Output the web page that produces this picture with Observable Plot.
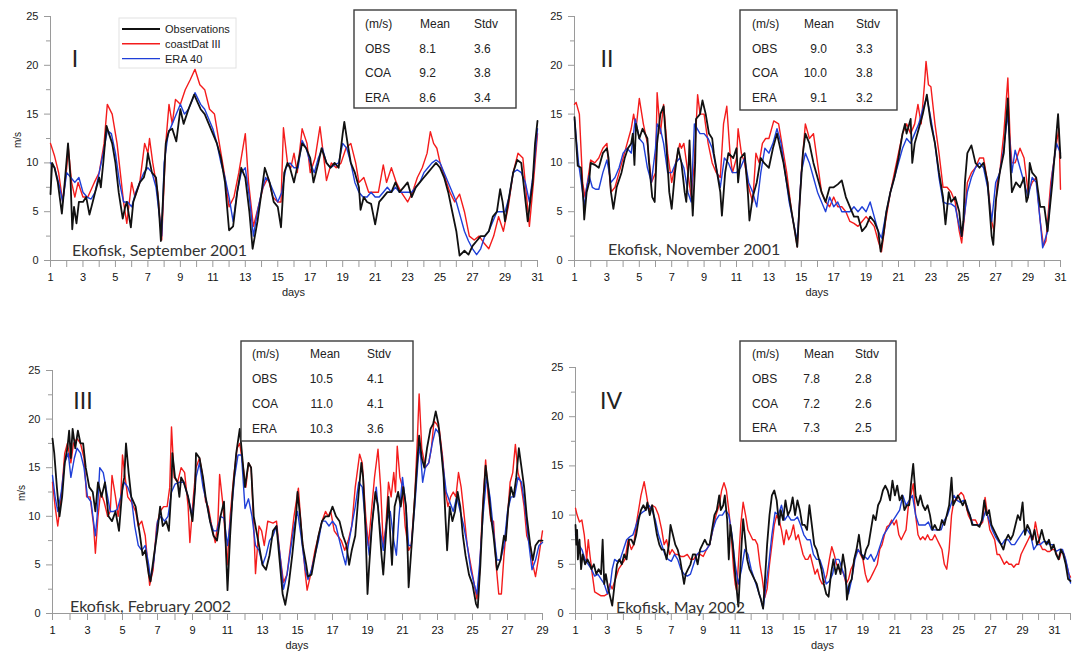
<!DOCTYPE html>
<html><head><meta charset="utf-8">
<script src="https://cdn.jsdelivr.net/npm/d3@7"></script>
<script src="https://cdn.jsdelivr.net/npm/@observablehq/plot@0.6"></script>
<style>
body{margin:0;background:#fff;}
#wrap{position:relative;width:1074px;height:651px;overflow:hidden;background:#fff;}
#wrap svg{position:absolute;}
</style></head><body><div id="wrap"></div>
<script>
// ---------- DATA (day of month, wind speed m/s) ----------
const seriesNames = ["Observations", "coastDat III", "ERA 40"];
const statRows = ["OBS", "COA", "ERA"];
const statHeader = ["(m/s)", "Mean", "Stdv"];
const yMajor = [0, 5, 10, 15, 20, 25];
const yMinor = [2.5, 7.5, 12.5, 17.5, 22.5];
const panelLabels = ["I", "II", "III", "IV"];
const siteLabels = ["Ekofisk, September 2001", "Ekofisk, November 2001", "Ekofisk, February 2002", "Ekofisk, May 2002"];
const lastDay = [31, 31, 29, 32];

const mean1 = [8.1, 9.2, 8.6], sd1 = [3.6, 3.8, 3.4];
const mean2 = [9.0, 10.0, 9.1], sd2 = [3.3, 3.8, 3.2];
const mean3 = [10.5, 11.0, 10.3], sd3 = [4.1, 4.1, 3.6];
const mean4 = [7.8, 7.2, 7.3], sd4 = [2.8, 2.6, 2.5];

// Panel I - September 2001
const obs1 = [[1,6.8],[1.1,10],[1.25,9.5],[1.45,8],[1.7,4.8],[1.85,7.5],[2.08,12],[2.23,8.5],[2.34,3.2],[2.45,5.5],[2.6,3.8],[2.75,6],[3,6],[3.2,6.5],[3.4,4.7],[3.6,6],[3.75,7],[4,8.5],[4.1,7.5],[4.25,10],[4.45,13.8],[4.6,13],[4.8,12],[5,10],[5.2,7],[5.45,4.3],[5.6,5.5],[5.7,6],[5.95,3.4],[6.1,6],[6.3,7],[6.5,8],[6.75,8.5],[6.9,9.5],[7,11],[7.25,9],[7.5,8.5],[7.65,6],[7.8,2],[7.95,7],[8.1,12],[8.3,13.3],[8.5,13.5],[8.75,12.2],[9,15.5],[9.2,14],[9.5,15.5],[9.85,17],[10.25,15.5],[10.5,15],[10.75,14],[11,13],[11.25,12],[11.5,10.5],[11.75,8],[12,3.1],[12.25,3.5],[12.5,7],[12.75,9.5],[13,8.5],[13.25,5],[13.45,1.2],[13.75,4],[14,7],[14.2,9.5],[14.5,8],[14.75,6],[15,5.5],[15.2,3.4],[15.4,9],[15.6,10],[15.75,9.5],[16,8],[16.25,10],[16.5,12],[16.75,11.5],[17,10.5],[17.2,8],[17.5,10],[17.7,11.5],[18,10],[18.25,9.5],[18.5,10],[18.75,9.5],[19,13],[19.1,14.2],[19.3,12],[19.5,10],[19.75,9],[20,7.5],[20.1,5.2],[20.3,6.5],[20.5,6],[20.75,5.8],[21,3.7],[21.25,6],[21.5,6.5],[21.75,7],[22,7],[22.25,8],[22.5,7],[22.75,7.5],[23,8],[23.25,6.5],[23.5,7.5],[23.75,8],[24,8.5],[24.25,9],[24.5,9.5],[24.75,10],[25,9.5],[25.25,8.5],[25.5,7],[25.75,5],[26,3],[26.2,0.5],[26.5,1],[26.75,0.6],[27,1.5],[27.25,2],[27.5,2.5],[27.75,2.5],[28,3],[28.25,4.5],[28.5,5],[28.7,7.3],[28.85,6],[29,4],[29.25,6.5],[29.5,9],[29.75,10.3],[30,10],[30.2,7],[30.4,4],[30.7,8],[30.85,12],[31,14.3]];
const coa1 = [[1,12],[1.25,10.7],[1.5,9],[1.75,6],[2,9.5],[2.1,11.5],[2.3,8],[2.5,6.5],[2.7,8],[3,6.5],[3.3,6.5],[3.7,8],[4,9],[4.3,12],[4.5,16],[4.8,15],[5.1,12],[5.5,6],[5.7,3.8],[6,8],[6.2,6.5],[6.5,8],[6.8,12],[7,11],[7.1,12.5],[7.3,10],[7.6,7],[7.85,2.1],[8.1,12],[8.3,16],[8.5,14],[8.7,16.5],[9,16],[9.3,17.5],[9.6,18.5],[9.9,19.6],[10.2,18],[10.5,17.5],[10.8,15.5],[11.1,15],[11.4,12],[11.7,9],[12,5.5],[12.3,6.5],[12.6,9],[13,13],[13.2,8],[13.5,3.5],[13.8,5.5],[14.1,7.5],[14.4,8.5],[14.7,6.5],[15,6],[15.2,6],[15.35,13.6],[15.6,10],[15.8,9.5],[16,11],[16.2,9],[16.5,13.5],[16.8,12],[17,9],[17.3,10.5],[17.6,13.7],[17.8,11],[18,8.2],[18.3,10],[18.6,9.5],[18.9,10],[19.2,11.5],[19.5,12],[19.8,10],[20,8],[20.3,8.5],[20.6,7],[20.9,7],[21.2,7],[21.5,9.8],[21.7,8],[22,9.5],[22.3,8],[22.6,7],[23,6],[23.3,7],[23.6,8.5],[23.9,9.5],[24.2,11],[24.4,13.2],[24.6,12],[24.8,11.5],[25,10],[25.3,8.5],[25.6,7],[25.9,6],[26.2,6.8],[26.5,5],[26.8,2.5],[27.1,2.1],[27.4,2.5],[27.7,1.8],[28,1.2],[28.3,2.5],[28.6,4.5],[28.9,3],[29.2,5.5],[29.5,9],[29.8,11],[30.1,10.5],[30.3,7],[30.5,3.5],[30.75,8],[31,13]];
const era1 = [[1,10],[1.25,9.5],[1.5,8],[1.75,6],[2,9],[2.25,8.5],[2.5,8],[2.75,8.5],[3,7],[3.25,6.5],[3.5,6.3],[3.75,7],[4,9],[4.25,11],[4.5,13.3],[4.75,13],[5,11],[5.25,8],[5.5,6],[5.75,6],[6,5.5],[6.25,7],[6.5,8],[6.75,9],[7,9.5],[7.25,9],[7.5,7.5],[7.75,4],[7.85,2.5],[8,10],[8.25,13],[8.5,14],[8.75,15],[9,16],[9.25,15],[9.5,15.5],[9.75,16.5],[9.9,17.2],[10.25,16],[10.5,15.5],[10.75,14.5],[11,13.5],[11.25,12],[11.5,10],[11.75,8.5],[12,6.5],[12.25,4],[12.5,7],[12.75,9],[13,9.5],[13.25,6.5],[13.5,2.5],[13.75,5],[14,7],[14.25,8.5],[14.5,8],[14.75,7],[15,6],[15.25,7],[15.5,9.5],[15.75,10],[16,9.5],[16.25,9.5],[16.5,12.3],[16.75,11.5],[17,10],[17.25,9],[17.5,10.5],[17.75,11.5],[18,10],[18.25,9.5],[18.5,9.8],[18.75,10],[19,12],[19.25,11.5],[19.5,10],[19.75,8],[20,7],[20.25,6.5],[20.5,6.5],[20.75,7],[21,6.5],[21.25,6.5],[21.5,7],[21.75,7.5],[22,7],[22.25,7.5],[22.5,7],[22.75,7],[23,7],[23.25,7],[23.5,7.5],[23.75,8],[24,9],[24.25,9.5],[24.5,10],[24.75,10.3],[25,10],[25.25,9],[25.5,8],[25.75,7],[26,6],[26.25,4.5],[26.5,3],[26.75,2],[27,1.2],[27.25,0.6],[27.5,1.2],[27.75,2.5],[28,3],[28.25,4],[28.5,5],[28.75,5],[29,5],[29.25,6.5],[29.5,9],[29.75,9.3],[30,9],[30.25,8],[30.5,6],[30.75,9],[31,13.5]];

// Panel II - November 2001
const obs2 = [[1,14.7],[1.2,9.7],[1.4,9.5],[1.55,6.1],[1.6,4.2],[1.75,7],[1.9,8],[2,10],[2.25,9.8],[2.5,9.5],[2.75,11],[3,11.5],[3.1,10.5],[3.25,7],[3.4,5.3],[3.6,7.5],[3.9,9],[4.1,10.5],[4.3,11.5],[4.5,12],[4.6,13],[4.7,9.8],[4.8,14],[5,12.5],[5.2,13.5],[5.5,12.5],[5.6,10],[5.8,6.5],[5.95,6],[6.1,12],[6.3,15],[6.5,15.8],[6.7,11],[6.85,7],[7,5.3],[7.2,9],[7.4,11.5],[7.6,10],[7.8,7],[7.9,6],[8.05,10],[8.1,12.3],[8.2,8],[8.3,4.6],[8.45,10],[8.5,14.5],[8.75,15],[8.9,16.4],[9.1,15],[9.3,13],[9.5,12.5],[9.6,11],[9.8,9],[10,7],[10.1,4.6],[10.3,9],[10.5,11],[10.8,10.5],[11,11.5],[11.1,8],[11.25,10.5],[11.5,11],[11.7,7],[11.8,4.1],[12,6.5],[12.25,8],[12.5,10.5],[12.7,10],[13,9.5],[13.25,11.5],[13.5,13],[13.7,11.5],[13.9,10],[14.1,8],[14.4,5],[14.6,3],[14.75,1.4],[14.9,6],[15.1,11],[15.25,13],[15.5,12],[15.75,10],[16,8.5],[16.25,7],[16.5,6],[16.75,7.5],[17,7.5],[17.25,7.8],[17.5,8.2],[17.75,6.5],[18,5.5],[18.25,4.5],[18.5,4.5],[18.75,3],[19,3.5],[19.25,4.5],[19.5,4],[19.75,3],[19.9,0.9],[20.1,3],[20.25,5],[20.5,7],[20.75,8.5],[21,10.5],[21.25,13],[21.4,14],[21.5,13],[21.75,14.5],[21.85,10],[22,12],[22.25,13.5],[22.5,15],[22.75,17],[23,14],[23.25,12],[23.5,9],[23.75,6.5],[23.9,3.7],[24.1,7],[24.25,6],[24.5,6.5],[24.75,5],[24.9,2.5],[25,4],[25.1,8],[25.25,11],[25.5,11.8],[25.75,10],[26,9.5],[26.25,10],[26.5,8],[26.75,2.5],[26.85,1.6],[27,6],[27.25,9],[27.5,11],[27.75,16.6],[27.9,10],[28,7],[28.25,8],[28.5,7.5],[28.75,8.5],[28.9,6],[29,6.5],[29.1,10],[29.25,9],[29.5,8.5],[29.75,5.5],[30,5.5],[30.2,3],[30.5,8],[30.75,13],[30.85,15],[31,10.5]];
const coa2 = [[1,16],[1.1,16.2],[1.3,15],[1.5,8],[1.65,6.5],[1.8,8],[2,10.3],[2.25,10],[2.5,10.5],[2.75,11.5],[3,12],[3.25,7],[3.5,7.5],[3.75,9],[4,10.5],[4.25,12],[4.5,13.5],[4.65,15],[4.8,13.5],[5,16.6],[5.25,14],[5.5,12],[5.75,8],[6,9],[6.1,17.2],[6.3,13],[6.5,16],[6.75,11],[7,8],[7.25,10],[7.5,12],[7.6,11.5],[7.75,12],[8,9],[8.2,6.5],[8.4,10],[8.6,17],[8.75,15],[9,15],[9.25,12],[9.5,10],[9.75,9],[10,8.5],[10.2,14],[10.4,15.8],[10.6,11],[10.75,9],[11,10.5],[11.1,13.5],[11.3,11],[11.5,10],[11.75,7.5],[12,6],[12.2,11],[12.4,10],[12.6,12],[12.8,12.5],[13,12.5],[13.3,14.3],[13.6,14],[13.9,11],[14.1,9],[14.4,5],[14.6,3],[14.75,1.4],[15,9],[15.25,14],[15.5,12.5],[15.75,13],[16,10],[16.25,7],[16.5,6],[16.75,5.5],[17,6.5],[17.25,5.5],[17.5,5.5],[17.75,5],[18,4],[18.25,3.8],[18.5,3.5],[18.75,4],[19,4.5],[19.25,4],[19.5,3.5],[19.75,2],[19.95,0.9],[20.2,4],[20.5,7],[20.75,9],[21,11],[21.25,13],[21.5,14],[21.75,13],[22,14],[22.2,16],[22.4,14],[22.6,18],[22.7,20.4],[22.85,18],[23,17.8],[23.25,14],[23.5,11],[23.75,7.5],[24,7.5],[24.25,7],[24.5,6],[24.75,3],[24.9,1.8],[25.1,5],[25.25,8],[25.5,9],[25.75,9.5],[26,10.5],[26.25,10.5],[26.5,8],[26.75,4],[26.9,3],[27.1,8],[27.25,9],[27.5,13],[27.75,18.7],[27.9,12],[28,10],[28.2,10],[28.5,11.5],[28.75,10.5],[29,7],[29.25,8],[29.5,8.5],[29.75,4],[29.95,1.5],[30.1,2],[30.4,8],[30.75,12],[30.9,13.5],[31,7.3]];
const era2 = [[1,14.5],[1.25,10],[1.5,7],[1.6,5.5],[1.75,7.5],[1.9,8.7],[2.1,7.5],[2.3,7.3],[2.5,7.3],[2.75,9],[3,10.3],[3.25,8],[3.5,8.5],[3.75,9.5],[4,11],[4.25,11.5],[4.5,11],[4.75,14.5],[5,12.5],[5.25,12],[5.5,9.5],[5.75,8],[6,11.5],[6.1,14],[6.3,13.5],[6.5,12],[6.75,9],[7,9],[7.25,10],[7.5,10.5],[7.75,9.5],[8,7],[8.2,6],[8.4,14],[8.75,13],[9,13],[9.25,12.5],[9.5,11.5],[9.75,9.5],[10,7.5],[10.25,10.5],[10.5,10],[10.75,9],[11,9],[11.25,9.5],[11.5,10.5],[11.75,8],[12,7],[12.25,5.5],[12.5,9],[12.75,11.5],[13,11],[13.25,12],[13.5,13.5],[13.75,12],[14,9],[14.25,6],[14.5,4],[14.75,2],[15,9],[15.25,11],[15.5,10],[15.75,8.5],[16,7],[16.25,6],[16.5,5],[16.75,6.5],[17,5.5],[17.25,6],[17.5,5],[17.75,5],[18,5],[18.25,5.5],[18.5,5],[18.75,5.5],[19,5],[19.25,6],[19.5,4.5],[19.75,3],[19.95,2.3],[20.25,5],[20.5,7],[20.75,8.5],[21,10],[21.25,11.5],[21.5,12.5],[21.75,12],[22,13],[22.25,14],[22.5,15.5],[22.75,16.7],[23,14.5],[23.25,12],[23.5,8.5],[23.75,6],[24,5.8],[24.25,5.8],[24.5,5.5],[24.75,3.5],[24.9,2.5],[25.25,7],[25.5,8.5],[25.75,9.5],[26,10],[26.25,9.5],[26.5,7.5],[26.75,4],[27,8],[27.25,9],[27.5,11.5],[27.75,15],[28,9],[28.2,11.3],[28.5,9.5],[28.75,8],[29,6.5],[29.25,8.5],[29.5,8],[29.75,4],[29.9,1.3],[30.2,3],[30.5,9],[30.75,12],[31,11]];

// Panel III - February 2002
const obs3 = [[1,18],[1.1,16.5],[1.25,13],[1.4,10],[1.55,12],[1.7,15.5],[1.85,17],[1.95,18.8],[2.05,16],[2.15,19],[2.3,17],[2.45,18.8],[2.6,17.5],[2.75,17.5],[2.9,15],[3.1,13],[3.3,12.5],[3.45,10.5],[3.6,13.5],[3.8,12],[4,13.5],[4.2,10],[4.4,9.5],[4.6,10.5],[4.8,8.5],[5,13],[5.1,14],[5.2,17.5],[5.35,14.5],[5.5,12],[5.75,11],[6,8],[6.15,6],[6.3,6.5],[6.5,4],[6.6,3.3],[6.8,6],[7,8.5],[7.15,11],[7.3,9],[7.5,9.5],[7.65,8.5],[7.8,13],[7.85,16.5],[8,14],[8.15,13.5],[8.25,12],[8.35,14],[8.5,13.5],[8.75,12],[9,9.5],[9.15,13],[9.2,16.5],[9.4,16],[9.6,14],[9.75,12],[9.9,10.5],[10,9.5],[10.2,8],[10.4,7.5],[10.6,10],[10.8,11.5],[10.9,7],[11,2.4],[11.15,8],[11.3,12.5],[11.5,16.5],[11.7,19],[11.85,16],[12,13],[12.2,15.5],[12.35,15],[12.5,10],[12.75,7.5],[13,5],[13.2,4.5],[13.4,6],[13.6,8.5],[13.8,9],[14,5],[14.15,2],[14.3,0.9],[14.5,3],[14.7,6],[14.9,9.5],[15,12.5],[15.15,10],[15.3,7],[15.5,5],[15.6,3.8],[15.8,4],[16,6],[16.2,8],[16.4,9.5],[16.6,10],[16.8,10],[17,11],[17.2,10],[17.4,9.5],[17.6,8],[17.8,7],[17.95,5],[18.1,6.5],[18.3,8],[18.5,12.5],[18.65,15.5],[18.75,14],[18.9,8],[19,2],[19.1,5],[19.25,9],[19.45,12.5],[19.6,11],[19.8,6],[19.9,4],[20.05,8],[20.2,12],[20.3,8],[20.4,5],[20.55,11],[20.75,12.5],[20.9,11],[21.05,13],[21.2,11],[21.3,6],[21.35,2.7],[21.6,9],[21.8,14.5],[21.95,18.3],[22.1,16],[22.25,15],[22.4,17],[22.6,19],[22.75,19.5],[22.9,20.8],[23.05,19.5],[23.2,17],[23.35,14],[23.45,10],[23.55,6.5],[23.7,11],[23.85,9.5],[24,10.5],[24.15,12.5],[24.3,11],[24.45,8],[24.6,6],[24.8,4],[25,3],[25.2,1],[25.3,0.6],[25.45,5],[25.6,11],[25.75,15.2],[25.9,13],[26.05,10],[26.2,8],[26.4,4.5],[26.6,5.5],[26.8,8],[26.9,7.5],[27.05,11],[27.2,13],[27.35,12],[27.5,14],[27.65,17],[27.8,15],[27.95,13],[28.1,10],[28.3,7],[28.45,5.5],[28.6,7],[28.8,7.5],[29,7.5]];
const coa3 = [[1,13.5],[1.15,11],[1.3,9],[1.5,12],[1.7,16.5],[1.85,17.5],[2.05,15.5],[2.2,17.5],[2.4,18],[2.6,17.5],[2.8,16],[2.95,12],[3.15,12],[3.35,9],[3.45,6.2],[3.6,10],[3.75,12.5],[3.95,11.5],[4.15,10],[4.3,10.5],[4.4,14.2],[4.6,12],[4.75,10],[4.9,12],[5,16.3],[5.15,14],[5.3,12],[5.5,11.5],[5.75,10.5],[5.9,9],[6.1,9.5],[6.3,8],[6.45,5],[6.55,2.9],[6.75,4.5],[6.95,9],[7.15,10.5],[7.35,11],[7.55,11],[7.7,13],[7.8,19.2],[7.95,14],[8.15,13.5],[8.35,15],[8.55,14.5],[8.75,11],[8.85,7.3],[9.05,12],[9.2,15],[9.4,16],[9.55,14.5],[9.75,11.5],[9.9,11],[10.1,9],[10.3,7.3],[10.45,9.3],[10.55,14.3],[10.75,11],[10.98,5],[11.15,10],[11.35,14],[11.55,17],[11.7,17.5],[11.9,15],[12.05,13],[12.2,15.5],[12.35,15],[12.5,9],[12.6,4.1],[12.8,9],[12.95,8.5],[13.1,7],[13.3,9.5],[13.6,9.3],[13.8,9.5],[14,6],[14.2,3.2],[14.4,4],[14.6,7],[14.8,10],[15.05,12.9],[15.25,8],[15.45,4],[15.55,2.4],[15.75,4],[16,6.5],[16.2,8],[16.4,9.5],[16.6,10.5],[16.75,10],[16.9,10.5],[17.1,8.5],[17.3,8],[17.5,7.5],[17.7,6.5],[17.9,7.5],[18.1,9],[18.3,13],[18.55,16.4],[18.7,15.5],[18.9,10],[19.05,7],[19.25,11],[19.4,14],[19.6,16.9],[19.75,13],[19.9,7],[20.05,9],[20.2,13.5],[20.35,12],[20.5,14.5],[20.6,12.5],[20.7,17.2],[20.85,14],[21,13],[21.15,9],[21.35,6.5],[21.5,7],[21.7,12],[21.85,18],[21.95,22.6],[22.1,17],[22.3,15],[22.5,15.5],[22.65,17],[22.8,19.8],[22.95,19.5],[23.1,19],[23.3,16],[23.45,12.5],[23.6,11],[23.75,12],[23.9,12.5],[24.05,12],[24.2,14.5],[24.35,13],[24.5,10.5],[24.7,7],[24.9,5],[25.1,3],[25.25,1.5],[25.4,4],[25.55,10],[25.75,15.8],[25.9,12],[26.05,9.5],[26.2,9.5],[26.35,5],[26.5,2],[26.65,2],[26.8,6],[27,10],[27.15,13.5],[27.3,14.5],[27.45,17.4],[27.6,14.5],[27.75,13.5],[27.95,11],[28.1,8],[28.3,7],[28.45,5],[28.6,3.8],[28.8,6],[29,8.5]];
const era3 = [[1,14.2],[1.15,12],[1.3,10.5],[1.5,12.5],[1.7,15.5],[1.9,16.5],[2.05,14],[2.25,16],[2.4,17],[2.6,16.5],[2.8,15],[3,12],[3.2,11.5],[3.45,8],[3.55,10],[3.7,15],[3.9,14.5],[4.1,12.5],[4.3,10.5],[4.5,10.5],[4.7,10.7],[4.9,12],[5.1,13.5],[5.3,13],[5.5,12],[5.7,9],[5.9,7],[6.1,6.5],[6.3,7],[6.5,5],[6.6,3.5],[6.8,5.5],[7,9.5],[7.2,10],[7.4,9.5],[7.6,10],[7.8,12.5],[8,13.3],[8.25,13.5],[8.5,13.5],[8.75,12],[9,10],[9.2,14],[9.4,15.5],[9.6,13],[9.8,11.5],[10,9.5],[10.2,8.5],[10.4,8.5],[10.6,10],[10.8,9.8],[11,7],[11.2,10],[11.4,14],[11.6,16.3],[11.8,16.3],[12,10.8],[12.2,11.8],[12.4,10],[12.6,7],[12.8,6.5],[13,5],[13.2,6],[13.4,7.5],[13.6,8],[13.8,9],[14,6],[14.2,2.5],[14.4,4],[14.6,6.5],[14.8,9],[15,10.5],[15.2,8],[15.45,4.5],[15.6,3.5],[15.8,4.5],[16,6],[16.2,7.5],[16.4,9.5],[16.6,9.5],[16.8,9],[17,9.5],[17.2,9],[17.4,7.5],[17.6,6],[17.75,5],[17.9,7],[18.1,9],[18.3,11],[18.5,13.5],[18.7,13],[18.9,9],[19.1,6],[19.3,10],[19.5,13],[19.7,9],[19.9,6.5],[20.1,9.5],[20.3,10.5],[20.5,7.5],[20.65,6],[20.8,10],[21,14],[21.2,11],[21.35,7],[21.5,7],[21.7,11],[21.9,16],[22,17.2],[22.15,13.5],[22.3,15],[22.5,15.5],[22.7,17.5],[22.9,19],[23.1,18.5],[23.3,15.5],[23.5,12.5],[23.7,11.5],[23.9,10.5],[24.1,12],[24.3,10.5],[24.5,9],[24.7,7],[24.9,4.5],[25.1,3],[25.25,2],[25.4,5],[25.6,10],[25.8,14],[26,12],[26.2,8.5],[26.4,5.5],[26.6,5.5],[26.8,7],[27,10.5],[27.2,12],[27.4,12],[27.6,14],[27.8,13.5],[28,11],[28.2,7.5],[28.4,4.5],[28.6,5.5],[28.8,7],[29,7.3]];

// Panel IV - May 2002
const obs4 = [[1,9],[1.05,7],[1.1,8.5],[1.15,5.5],[1.25,7.5],[1.35,4.5],[1.45,6],[1.6,5],[1.75,5.5],[1.9,5],[2,4.5],[2.15,5],[2.3,4],[2.45,4.5],[2.6,4],[2.7,7.5],[2.8,3],[2.9,4],[3.05,2.5],[3.2,1.5],[3.3,0.8],[3.45,3],[3.6,5],[3.75,5.5],[3.9,5],[4.05,6],[4.2,5.5],[4.35,7.5],[4.5,7.5],[4.65,7],[4.8,8],[4.95,9.5],[5.1,10.5],[5.25,11],[5.4,10.5],[5.5,11.3],[5.65,10],[5.8,11],[5.95,9.5],[6.1,8],[6.25,7],[6.4,6.5],[6.55,6.5],[6.7,5.5],[6.85,7],[6.95,9],[7.1,8],[7.25,7],[7.4,6.5],[7.55,5.5],[7.7,4],[7.8,3],[7.9,4],[8.05,4.5],[8.2,5],[8.35,6],[8.5,6],[8.65,5],[8.8,6.5],[8.95,7],[9.1,7.5],[9.25,7],[9.4,7],[9.55,8.5],[9.7,10],[9.85,10.5],[10,12],[10.1,10.5],[10.25,11],[10.35,12],[10.5,9.5],[10.6,5.5],[10.7,9],[10.85,7],[11,4],[11.2,0.7],[11.4,7],[11.5,9.6],[11.6,8],[11.75,5.5],[11.9,4.5],[12.05,4],[12.2,3.5],[12.35,3],[12.5,2],[12.6,1.5],[12.75,0.5],[12.85,3],[13,7],[13.15,10],[13.3,12],[13.45,12.5],[13.6,11.5],[13.75,9],[13.85,10.5],[14,9.5],[14.15,11.5],[14.3,10],[14.45,10.5],[14.6,11.8],[14.75,10],[14.9,11.5],[15.05,10.5],[15.2,9],[15.35,9],[15.5,8.5],[15.65,11],[15.8,9],[15.95,7],[16.1,6.5],[16.25,5.5],[16.4,4.5],[16.55,3],[16.7,2],[16.85,1.7],[17,4],[17.15,5.5],[17.3,4],[17.45,5],[17.6,4],[17.75,6],[17.9,4.5],[18,1.4],[18.15,3],[18.3,3.5],[18.45,5.5],[18.6,6.5],[18.75,8],[18.9,6],[19.05,5.5],[19.2,6.5],[19.35,7],[19.5,8.5],[19.65,10],[19.8,9.5],[19.95,11],[20.1,11.5],[20.25,12.5],[20.4,13],[20.55,12.5],[20.7,11.5],[20.85,13.5],[21,12],[21.15,13],[21.3,11.5],[21.45,12],[21.6,10.5],[21.75,11],[21.9,11],[22,13],[22.15,15.2],[22.3,12],[22.45,11],[22.6,12],[22.75,11],[22.9,10.5],[23.05,11],[23.2,10],[23.35,8.5],[23.5,9],[23.65,8.5],[23.8,8.5],[23.95,9.5],[24.1,9],[24.25,10],[24.4,11],[24.55,13.8],[24.65,11],[24.8,11.5],[24.95,12],[25.1,11.5],[25.25,11],[25.4,11.5],[25.55,10.5],[25.7,10],[25.85,9],[26,9],[26.15,9],[26.3,8.8],[26.45,9.5],[26.6,11.5],[26.75,10],[26.9,10.5],[27.05,9],[27.2,8.5],[27.35,8],[27.5,7.5],[27.65,7],[27.8,6.5],[27.95,7.5],[28.1,8],[28.25,7.5],[28.4,8],[28.55,9],[28.7,10],[28.85,9.5],[29,11.3],[29.15,8],[29.3,9],[29.45,8.5],[29.6,7.5],[29.75,8.5],[29.9,7],[30.05,7.5],[30.2,8.5],[30.35,7.5],[30.5,7],[30.65,7.5],[30.8,6.5],[30.95,7],[31.1,6],[31.25,5.5],[31.4,6.5],[31.55,6],[31.7,5],[31.85,3.5],[32,3.3]];
const coa4 = [[1,10.7],[1.1,10],[1.25,9.3],[1.4,9.5],[1.55,8],[1.7,5.5],[1.8,7.5],[1.9,6],[2.05,4],[2.2,2.2],[2.4,2],[2.6,1.8],[2.8,1.8],[3,2],[3.15,3],[3.3,2.5],[3.5,3.5],[3.7,4.5],[3.9,5],[4.1,5.5],[4.3,7.5],[4.5,6.5],[4.65,7],[4.8,9],[4.95,10.5],[5.1,12],[5.3,13.4],[5.45,12],[5.6,10.5],[5.8,11],[6,10.8],[6.2,10],[6.4,8.5],[6.55,7],[6.7,7.5],[6.9,6],[7.05,6.5],[7.25,6],[7.4,6],[7.6,5.8],[7.8,5.8],[8,6],[8.2,5.5],[8.4,5.5],[8.6,6],[8.8,6],[9,5.8],[9.2,6.5],[9.4,7],[9.6,8.5],[9.8,10],[10,11],[10.15,12.5],[10.3,13.3],[10.45,12.5],[10.6,10.5],[10.75,8],[10.9,4.5],[11,3],[11.1,2.3],[11.2,5],[11.35,9],[11.5,11.3],[11.65,10],[11.8,8.5],[11.95,8],[12.1,7.5],[12.25,7.5],[12.4,7],[12.55,5],[12.7,3.5],[12.85,1.6],[13,2.5],[13.15,5],[13.3,7],[13.45,9],[13.6,10],[13.75,9.5],[13.9,8.5],[14.05,7],[14.2,8.5],[14.35,7.5],[14.5,8],[14.65,9],[14.8,7.5],[14.95,8],[15.1,7],[15.25,6],[15.4,5.5],[15.55,5.5],[15.7,6],[15.85,5],[16,4],[16.15,4.5],[16.3,3.5],[16.45,3],[16.6,3.2],[16.75,4],[16.9,5.5],[17.05,6.8],[17.2,6],[17.35,5],[17.5,4.5],[17.65,4.5],[17.8,4],[17.95,3],[18.1,3.5],[18.25,4.5],[18.4,5],[18.55,6],[18.7,6.5],[18.85,6],[19,5.5],[19.15,4],[19.3,3.2],[19.45,3.5],[19.6,4],[19.75,4.5],[19.9,5],[20.05,6.5],[20.2,7],[20.35,8],[20.5,8.8],[20.65,9],[20.8,9.5],[20.95,9],[21.1,9.5],[21.25,8],[21.4,7.5],[21.55,8],[21.7,8.5],[21.85,11],[22,12],[22.15,13.2],[22.3,10],[22.45,8],[22.6,7.5],[22.75,7.8],[22.9,7.5],[23.05,8],[23.2,7.5],[23.35,7.5],[23.5,8],[23.65,7.5],[23.8,7],[23.95,6.5],[24.1,5],[24.25,4.5],[24.4,6.5],[24.55,10],[24.7,11.5],[24.85,11.5],[25,12],[25.15,12.3],[25.3,12],[25.45,11],[25.6,10],[25.75,9.5],[25.9,9.5],[26.05,9.5],[26.2,9],[26.35,9],[26.5,9.3],[26.65,11.8],[26.8,10],[26.95,8.5],[27.1,8],[27.25,7.5],[27.4,6],[27.55,6],[27.7,5.5],[27.85,5],[28,5.3],[28.15,5],[28.3,5],[28.45,4.7],[28.6,5],[28.75,5],[28.9,6],[29.05,6.5],[29.2,7],[29.35,7.5],[29.5,8],[29.65,7.5],[29.8,9.3],[29.95,8],[30.1,7],[30.25,6.5],[30.4,6.5],[30.55,6.3],[30.7,6.3],[30.85,6.5],[31,6.5],[31.15,6],[31.3,5.5],[31.45,6.5],[31.6,6],[31.75,5],[31.9,4],[32,3.7]];
const era4 = [[1,8],[1.2,7],[1.4,6.5],[1.6,5.5],[1.8,5],[2,4.5],[2.2,3.8],[2.4,4],[2.6,3.5],[2.8,3],[3,2],[3.15,2.5],[3.3,4.5],[3.45,5.5],[3.6,5.3],[3.8,5.5],[4,6.5],[4.2,7.5],[4.4,7.8],[4.6,8],[4.8,9],[5,10],[5.2,10.3],[5.4,10.5],[5.6,11],[5.8,10.5],[6,9.5],[6.2,8],[6.4,7],[6.6,6],[6.8,5.5],[7,5.3],[7.2,6],[7.4,5.5],[7.6,4.5],[7.8,4],[8,3.8],[8.2,4],[8.4,5],[8.6,6],[8.8,6.3],[9,6.3],[9.2,6.5],[9.4,7],[9.6,8.5],[9.8,9.5],[10,10],[10.2,10],[10.4,10.5],[10.6,10],[10.8,8],[11,5],[11.2,3],[11.4,4.5],[11.6,6.5],[11.8,6],[12,4.5],[12.2,3.5],[12.4,2.5],[12.6,1.5],[12.75,0.5],[12.9,2.5],[13.1,5],[13.3,8],[13.5,10.3],[13.7,10],[13.9,11],[14.1,9.5],[14.3,10],[14.5,9.5],[14.7,9.5],[14.9,9.8],[15.1,9],[15.3,8],[15.5,7.5],[15.7,7.5],[15.9,6],[16.1,5.5],[16.3,5.5],[16.5,4.5],[16.7,3],[16.9,3.3],[17.1,4],[17.3,5.5],[17.5,5.5],[17.7,4.5],[17.9,3.5],[18.1,2],[18.3,3.5],[18.5,5.5],[18.7,6.5],[18.9,6],[19.1,5.8],[19.3,5.5],[19.5,6],[19.7,5.3],[19.9,6],[20.1,7],[20.3,8],[20.5,8.5],[20.7,9],[20.9,9.5],[21.1,10],[21.3,10.5],[21.5,12],[21.7,11],[21.9,11.5],[22.1,12],[22.3,10],[22.5,9],[22.7,9],[22.9,9],[23.1,9.3],[23.3,8.5],[23.5,8.5],[23.7,8.5],[23.9,8.5],[24.1,9.5],[24.3,10],[24.5,11],[24.7,12],[24.9,11.5],[25.1,11.3],[25.3,11.5],[25.5,11],[25.7,10],[25.9,9],[26.1,9],[26.3,9],[26.5,9.5],[26.7,10.5],[26.9,9.5],[27.1,8.5],[27.3,7.8],[27.5,7.3],[27.7,7],[27.9,7.5],[28.1,7.5],[28.3,7],[28.5,7],[28.7,7.5],[28.9,8],[29.1,8.5],[29.3,8.5],[29.5,8],[29.7,6.5],[29.9,7],[30.1,7],[30.3,7.3],[30.5,7.3],[30.7,7],[30.9,7],[31.1,6.3],[31.3,6.5],[31.5,6.5],[31.7,5.5],[31.9,4],[32,3.1]];

// ---------- LAYOUT ----------
const colors = {obs: "#111111", coa: "#f41c1c", era: "#1f3fd8"};
const axisFont = "'Liberation Sans', Arial, Helvetica, sans-serif";
const titleFont = "Lato, 'Open Sans', sans-serif";

const panels = [
  {obs: obs1, coa: coa1, era: era1, mean: mean1, sd: sd1, left: 0, top: 0, w: 545, h: 320, mL: 50, mR: 8, mT: 16, mB: 60,
   ms: [17, 140], roman: [75, 58], site: [72, 256], daysY: 296,
   box: {x: 354, y: 10, w: 162, h: 98, c0: 365, c2: 474, c1: 420, mr: 436, rows: [23.5, 48.5, 73, 97.5]}, legend: true},
  {obs: obs2, coa: coa2, era: era2, mean: mean2, sd: sd2, left: 545, top: 0, w: 529, h: 320, mL: 29, mR: 14, mT: 16, mB: 60,
   ms: null, roman: [62, 58], site: [63, 255], daysY: 296,
   box: {x: 195, y: 10, w: 157, h: 100, c0: 207, c2: 311, c1: 259, mr: 282, rows: [23.5, 48.5, 73, 97.5]}},
  {obs: obs3, coa: coa3, era: era3, mean: mean3, sd: sd3, left: 0, top: 320, w: 545, h: 331, mL: 52, mR: 3, mT: 50, mB: 38,
   ms: [21, 173], roman: [83, 80], site: [70, 292], daysY: 329,
   box: {x: 241, y: 21, w: 172, h: 100, c0: 252, c2: 367, c1: 310, mr: 333, rows: [34, 58.5, 83.5, 108.5]}},
  {obs: obs4, coa: coa4, era: era4, mean: mean4, sd: sd4, left: 545, top: 320, w: 529, h: 331, mL: 30, mR: 4, mT: 47, mB: 38,
   ms: null, roman: [66, 80], site: [71, 293], daysY: 329,
   box: {x: 195, y: 21, w: 156, h: 100, c0: 207, c2: 310, c1: 259, mr: 275, rows: [34, 58.5, 83.5, 108]}}
];

const wrap = document.getElementById("wrap");

panels.forEach((p, k) => {
  const xmax = lastDay[k];
  const dayTicks = d3.range(1, xmax + 1);
  const labelMax = xmax % 2 === 1 ? xmax : xmax - 1;
  const svg = Plot.plot({
    width: p.w, height: p.h,
    marginLeft: p.mL, marginRight: p.mR, marginTop: p.mT, marginBottom: p.mB,
    style: {background: "transparent", fontFamily: axisFont, fontSize: "11px", overflow: "visible", maxWidth: "none"},
    x: {domain: [1, xmax], label: null},
    y: {domain: [0, 25], label: null},
    marks: [
      Plot.ruleY([0], {stroke: "#9a9a9a", strokeWidth: 1}),
      Plot.ruleX([1], {stroke: "#9a9a9a", strokeWidth: 1}),
      Plot.axisY(yMajor, {tickSize: 6, tickPadding: 6, stroke: "#9a9a9a", fill: "#222", fontSize: 11, tickFormat: d => String(d)}),
      Plot.axisY(yMinor, {tickSize: 4, stroke: "#9a9a9a", tickFormat: () => ""}),
      Plot.axisX(dayTicks, {tickSize: 7, tickPadding: 6, stroke: "#9a9a9a", fill: "#111", fontSize: 11,
        tickFormat: d => (d % 2 === 1 && d <= labelMax) ? String(d) : ""}),
      Plot.line(p.coa, {x: d => d[0], y: d => d[1], stroke: colors.coa, strokeWidth: 1.4}),
      Plot.line(p.era, {x: d => d[0], y: d => d[1], stroke: colors.era, strokeWidth: 1.4}),
      Plot.line(p.obs, {x: d => d[0], y: d => d[1], stroke: colors.obs, strokeWidth: 1.8})
    ]
  });
  svg.style.left = p.left + "px";
  svg.style.top = p.top + "px";
  wrap.appendChild(svg);

  const g = d3.select(svg).append("g").attr("text-anchor", "start");
  g.append("text").attr("x", (p.mL + p.w - p.mR) / 2).attr("y", p.daysY)
    .attr("text-anchor", "middle").attr("font-family", axisFont).attr("font-size", 11).attr("fill", "#222").text("days");
  if (p.ms) {
    g.append("text").attr("transform", `translate(${p.ms[0]},${p.ms[1]}) rotate(-90)`)
      .attr("text-anchor", "middle").attr("dominant-baseline", "central")
      .attr("font-family", axisFont).attr("font-size", 10).attr("fill", "#222").text("m/s");
  }
  g.append("text").attr("x", p.roman[0]).attr("y", p.roman[1]).attr("text-anchor", "middle").attr("dominant-baseline", "central")
    .attr("font-family", titleFont).attr("font-size", 23).attr("fill", "#222").text(panelLabels[k]);
  g.append("text").attr("x", p.site[0]).attr("y", p.site[1]).attr("text-anchor", "start")
    .attr("font-family", titleFont).attr("font-size", 16).attr("fill", "#333").text(siteLabels[k]);
  const b = p.box;
  g.append("rect").attr("x", b.x).attr("y", b.y).attr("width", b.w).attr("height", b.h)
    .attr("fill", "#fff").attr("stroke", "#3c3c3c").attr("stroke-width", 1.4);
  const txt = (x, y, s, anchor) => g.append("text").attr("x", x).attr("y", y).attr("text-anchor", anchor || "start")
    .attr("dominant-baseline", "central").attr("font-family", axisFont).attr("font-size", 12).attr("fill", "#222").text(s);
  txt(b.c0, b.rows[0], statHeader[0]); txt(b.c1, b.rows[0], statHeader[1]); txt(b.c2, b.rows[0], statHeader[2]);
  statRows.forEach((r, i) => {
    txt(b.c0, b.rows[i + 1], r);
    txt(b.mr, b.rows[i + 1], p.mean[i].toFixed(1), "end");
    txt(b.c2, b.rows[i + 1], p.sd[i].toFixed(1));
  });
  if (p.legend) {
    const L = g.append("g");
    L.append("rect").attr("x", 119).attr("y", 18).attr("width", 117).attr("height", 50)
      .attr("fill", "#fff").attr("stroke", "#e2e2e2").attr("stroke-width", 1);
    const cols = [colors.obs, colors.coa, colors.era];
    seriesNames.forEach((s, i) => {
      const y = 29 + i * 14.8;
      L.append("line").attr("x1", 122).attr("x2", 160).attr("y1", y).attr("y2", y)
        .attr("stroke", cols[i]).attr("stroke-width", i === 0 ? 1.8 : 1.4);
      L.append("text").attr("x", 165).attr("y", y).attr("text-anchor", "start").attr("dominant-baseline", "central")
        .attr("font-family", axisFont).attr("font-size", 11).attr("fill", "#222").text(s);
    });
  }
});
</script>
</body></html>
